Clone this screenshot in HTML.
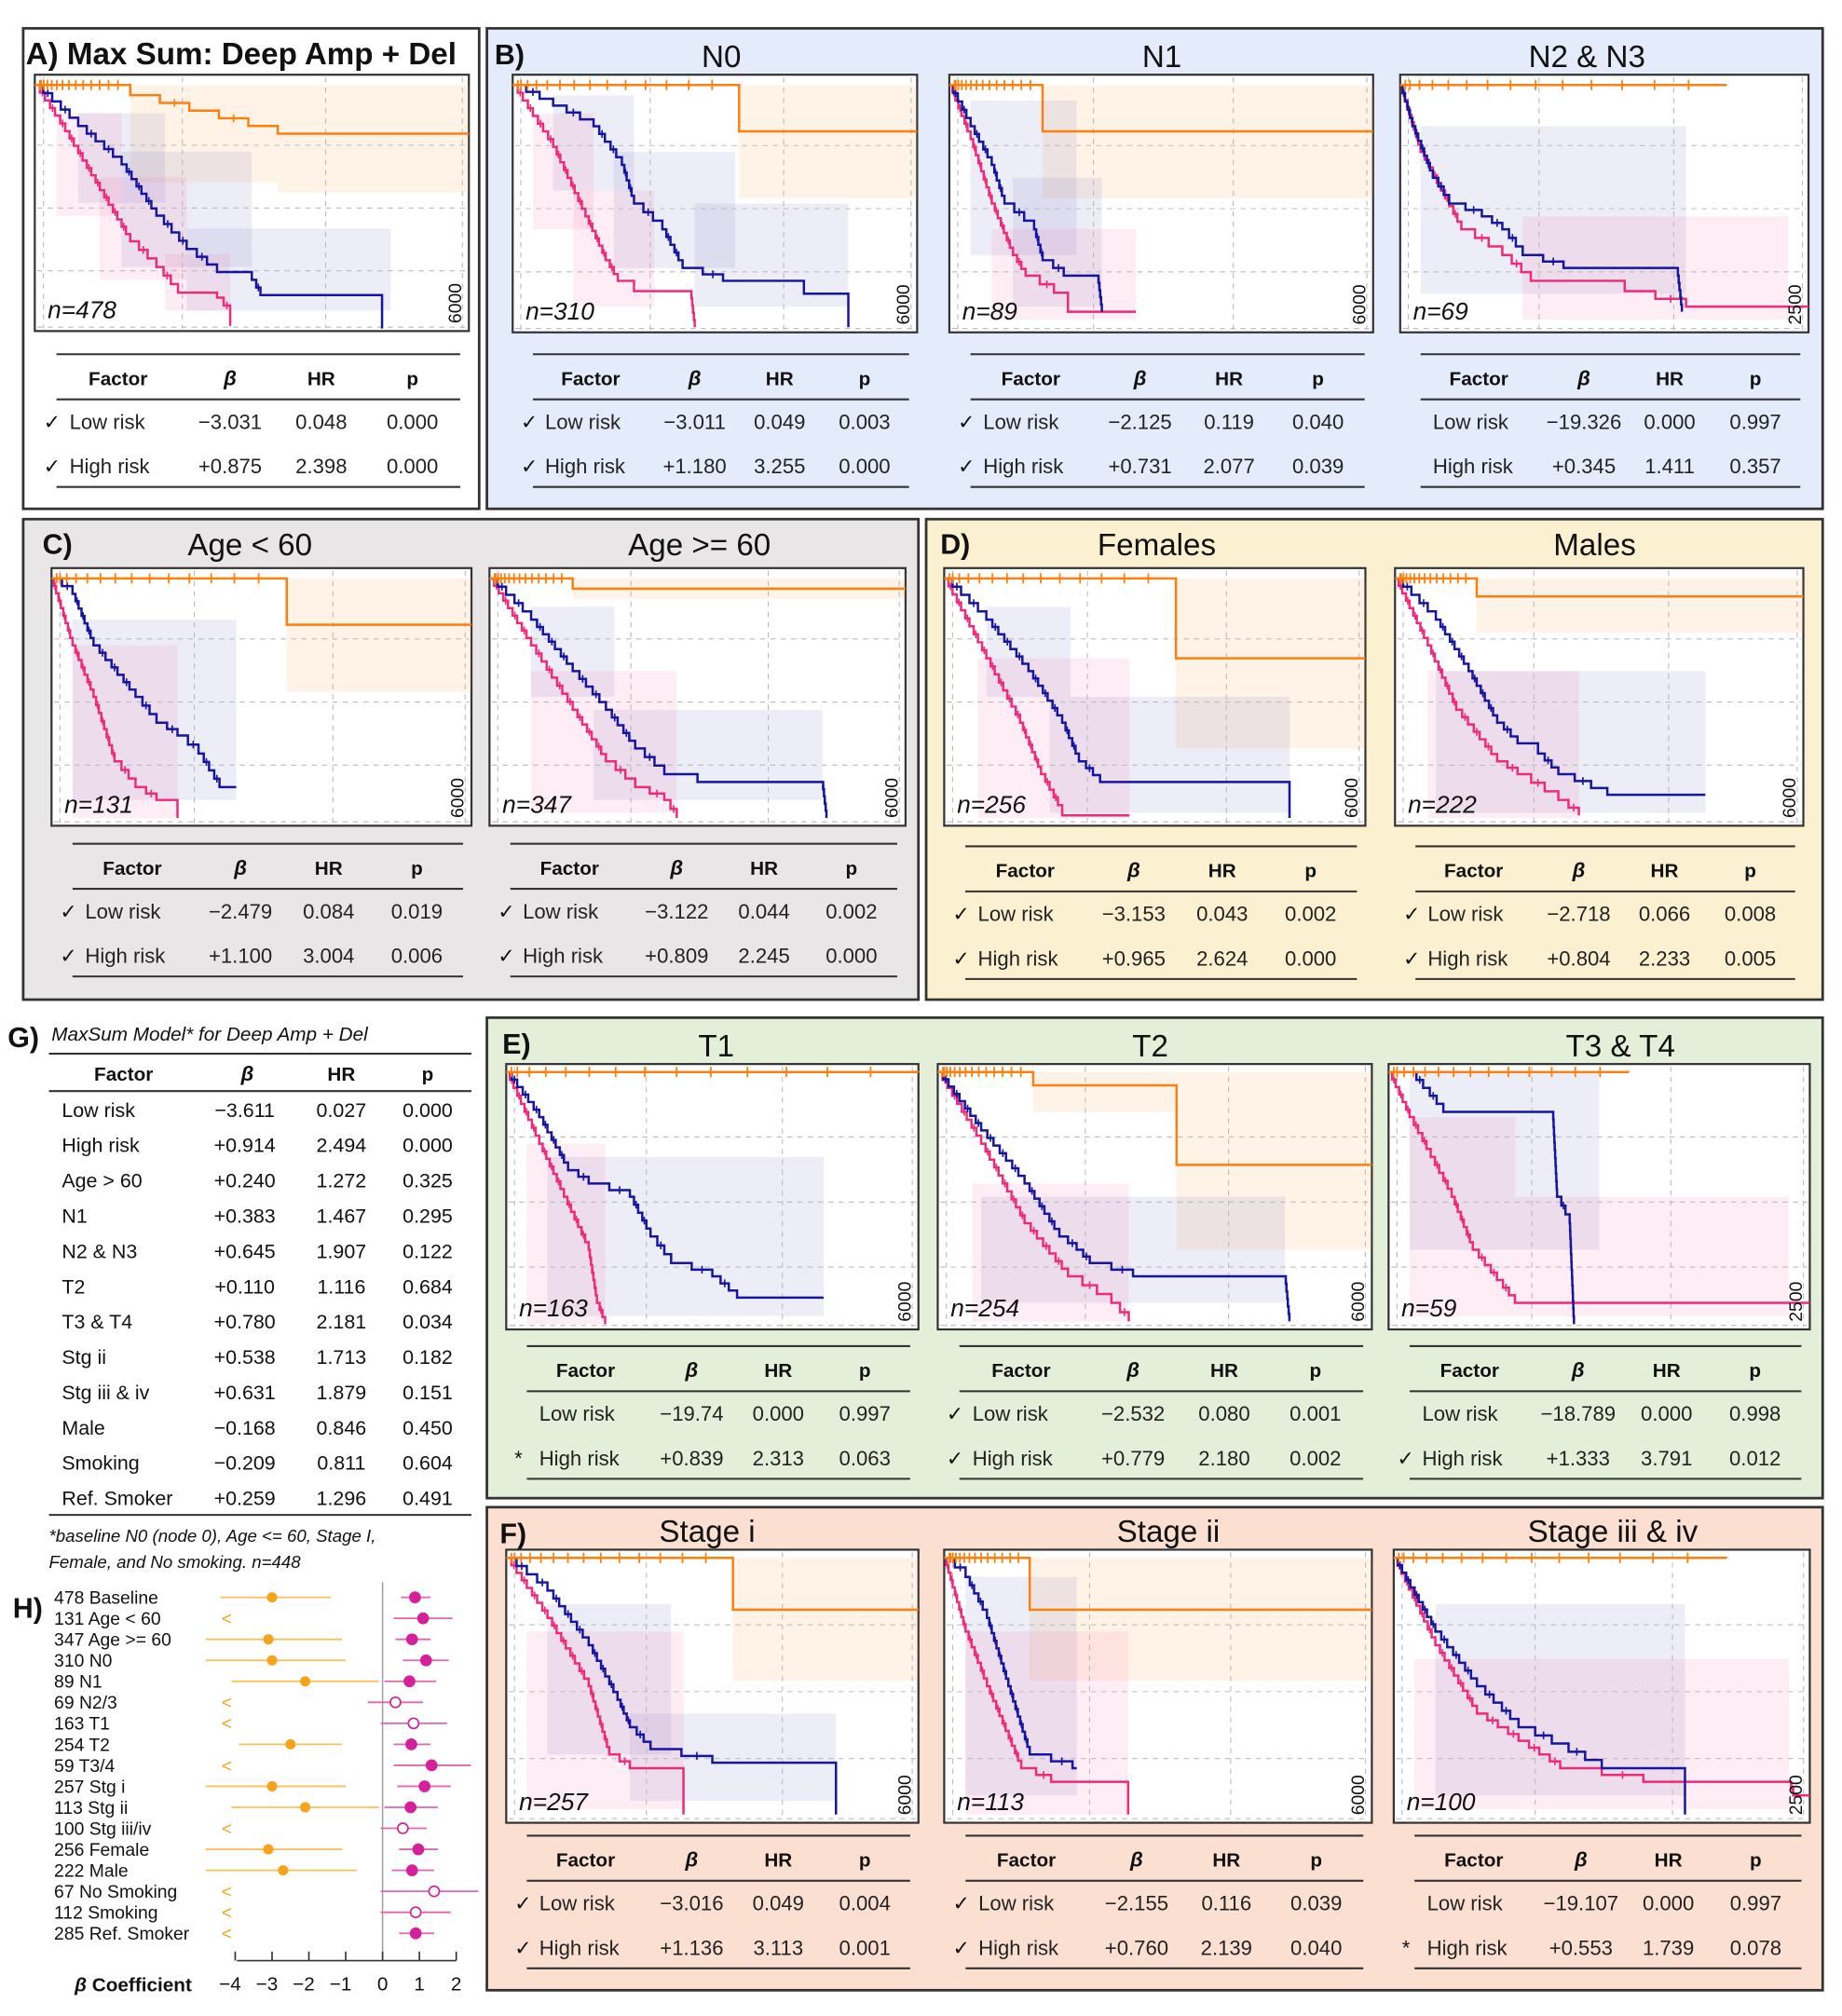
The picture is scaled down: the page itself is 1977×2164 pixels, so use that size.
<!DOCTYPE html>
<html><head><meta charset="utf-8"><style>
html,body{margin:0;padding:0;background:#fff}
svg{display:block}
text{font-family:"Liberation Sans","DejaVu Sans",sans-serif}
</style></head><body>
<svg id="s" width="1977" height="2164" viewBox="0 0 1430 1565" preserveAspectRatio="none" xmlns="http://www.w3.org/2000/svg"></svg>
<script>
const S=document.getElementById('s');let H='';
const OR='#ff7f0e',BL='#1515a0',PK='#ee2a7b';
function rect(x,y,w,h,f,st,sw){H+=`<rect x="${x}" y="${y}" width="${w}" height="${h}" fill="${f}" stroke="${st||'none'}" stroke-width="${sw||0}"/>`}
function line(x1,y1,x2,y2,c,w,d){H+=`<line x1="${x1}" y1="${y1}" x2="${x2}" y2="${y2}" stroke="${c}" stroke-width="${w}" ${d?`stroke-dasharray="${d}"`:''}/>`}
function txt(x,y,t,sz,o){o=o||{};H+=`<text x="${x}" y="${y}" font-size="${sz}" ${o.a?`text-anchor="${o.a}"`:''} ${o.b?'font-weight="bold"':''} ${o.i?'font-style="italic"':''} fill="${o.c||'#111'}" ${o.t?`transform="${o.t}"`:''}>${t}</text>`}
rect(18,22,354,373,'#fff','#333',2);
rect(378,22,1037,373,'#e4ebfa','#333',2);
rect(18,403,695,373,'#e8e6e6','#333',2);
rect(719,403,696,373,'#fbf0cf','#333',2);
rect(378,790,1037,373,'#e3efd9','#333',2);
rect(378,1170,1037,375,'#fbe0d2','#333',2);
function stair(pts,x,y,w,h){
 let d='',ticks=[];
 for(let i=0;i<pts.length;i++){
  const [t,f]=pts[i];
  if(i==0){d=`M${x+t*w},${y+f*h}`;continue}
  const [t0,f0]=pts[i-1];
  const n=Math.max(1,Math.round((f-f0)*h/6));
  for(let k=1;k<=n;k++){
   const tt=t0+(t-t0)*k/n, ff=f0+(f-f0)*k/n;
   d+=` H${(x+tt*w).toFixed(1)} V${(y+ff*h).toFixed(1)}`;
   if(k%2==0) ticks.push([x+(t0+(t-t0)*(k-.5)/n)*w,y+(f0+(f-f0)*(k-1)/n)*h]);
  }
 }
 return [d,ticks];
}
function km(x,y,w,h,o){
 rect(x,y,w,h,'#fff','#333',1.6);
 for(const b of (o.ob||[]))rect(x+b[0]*w,y+b[2]*h,(b[1]-b[0])*w,(b[3]-b[2])*h,'rgba(255,160,80,0.13)');
 for(const b of (o.bb||[]))rect(x+b[0]*w,y+b[2]*h,(b[1]-b[0])*w,(b[3]-b[2])*h,'rgba(90,90,180,0.11)');
 for(const b of (o.pb||[]))rect(x+b[0]*w,y+b[2]*h,(b[1]-b[0])*w,(b[3]-b[2])*h,'rgba(240,60,130,0.09)');
 for(let i=1;i<=4;i++)line(x+2,y+h*(i==4?.985:(i*.245+.03)),x+w-2,y+h*(i==4?.985:(i*.245+.03)),'#bbb',0.8,'4 4');
 for(const fx of [.02,.34,.67,.985])line(x+w*fx,y+2,x+w*fx,y+h-2,'#bbb',0.8,'4 4');
 for(const [c,p] of [[PK,o.p],[BL,o.b],[OR,o.o]]){
  const [d,tk]=stair(p,x,y,w,h);
  H+=`<path d="${d}" fill="none" stroke="${c}" stroke-width="1.8"/>`;
  for(const t of tk)line(t[0],t[1]-3,t[0],t[1]+3,c,1.2);
 }
 const of=o.o[0][1],oe=o.o[1][0];
 for(let i=0;i<14;i++){const tx=x+4+(oe*w-6)*Math.pow(i/14,1.6);line(tx,y+of*h-4,tx,y+of*h+4,OR,1.3)}
 txt(x+10,y+h-10,o.n,19,{i:1});
 txt(0,0,o.m||'6000',14,{t:`translate(${x+w-6},${y+h-6}) rotate(-90)`});
}
function table(x,w,y0,rows){
 const c=[x+w*.18,x+w*.45,x+w*.66,x+w*.87];
 line(x+w*.05,y0,x+w*.98,y0,'#333',1.5);
 txt(c[0]+4,y0+24,'Factor',15,{a:'middle',b:1});
 txt(c[1],y0+24,'β',16,{a:'middle',b:1,i:1});
 txt(c[2],y0+24,'HR',15,{a:'middle',b:1});
 txt(c[3],y0+24,'p',15,{a:'middle',b:1});
 line(x+w*.05,y0+35,x+w*.98,y0+35,'#333',1.5);
 rows.forEach((r,i)=>{const yy=y0+58+i*34.5;
  if(r[0])txt(x+w*.02,yy,r[0],16,{});
  txt(x+w*.08,yy,r[1],16,{c:'#222'});
  txt(c[1],yy,r[2],16,{a:'middle',c:'#222'});
  txt(c[2],yy,r[3],16,{a:'middle',c:'#222'});
  txt(c[3],yy,r[4],16,{a:'middle',c:'#222'});});
 line(x+w*.05,y0+103,x+w*.98,y0+103,'#333',1.5);
}
const CK='✓';
txt(20,50,'A) Max Sum: Deep Amp + Del',24,{b:1});
txt(384,50,'B)',22,{b:1});txt(560,52,'N0',24,{a:'middle'});txt(902,52,'N1',24,{a:'middle'});txt(1232,52,'N2 &amp; N3',24,{a:'middle'});
txt(33,430,'C)',22,{b:1});txt(194,431,'Age &lt; 60',24,{a:'middle'});txt(543,431,'Age &gt;= 60',24,{a:'middle'});
txt(730,430,'D)',22,{b:1});txt(898,431,'Females',24,{a:'middle'});txt(1238,431,'Males',24,{a:'middle'});
txt(390,818,'E)',22,{b:1});txt(556,820,'T1',24,{a:'middle'});txt(893,820,'T2',24,{a:'middle'});txt(1258,820,'T3 &amp; T4',24,{a:'middle'});
txt(388,1198,'F)',22,{b:1});txt(549,1197,'Stage i',24,{a:'middle'});txt(907,1197,'Stage ii',24,{a:'middle'});txt(1252,1197,'Stage iii &amp; iv',24,{a:'middle'});
km(27,58,337,199,{o:[[0,.04],[.22,.08],[.56,.23],[1,.23]],ob:[[.22,.56,.04,.42],[.56,1,.04,.46]],
 b:[[0,.04],[.1,.2],[.2,.35],[.28,.55],[.35,.68],[.42,.77],[.5,.8],[.52,.86],[.8,.86],[.8,.99]],bb:[[.1,.3,.15,.5],[.2,.5,.3,.75],[.35,.82,.6,.92]],
 p:[[0,.04],[.07,.22],[.15,.45],[.22,.65],[.28,.75],[.33,.85],[.42,.87],[.45,.93],[.45,.98]],pb:[[.05,.2,.15,.55],[.15,.35,.4,.8],[.3,.45,.7,.92]],n:'n=478'});
table(27,337,275,[[CK,'Low risk','−3.031','0.048','0.000'],[CK,'High risk','+0.875','2.398','0.000']]);
km(398,58,314,200,{o:[[0,.04],[.56,.04],[.56,.22],[1,.22]],ob:[[.56,1,.04,.48]],
 b:[[0,.04],[.1,.12],[.2,.2],[.27,.35],[.3,.5],[.37,.6],[.42,.75],[.52,.8],[.55,.8],[.55,.8],[.72,.8],[.72,.85],[.83,.85],[.83,.98]],bb:[[.1,.3,.08,.45],[.25,.55,.3,.75],[.45,.83,.5,.9]],
 p:[[0,.04],[.1,.28],[.18,.55],[.23,.72],[.26,.8],[.3,.84],[.44,.84],[.45,.98]],pb:[[.05,.2,.15,.6],[.15,.35,.45,.9]],n:'n=310'});
table(398,314,275,[[CK,'Low risk','−3.011','0.049','0.003'],[CK,'High risk','+1.180','3.255','0.000']]);
km(737,58,329,200,{o:[[0,.04],[.22,.04],[.22,.22],[1,.22]],ob:[[.22,1,.04,.48]],
 b:[[0,.04],[.05,.2],[.1,.35],[.13,.5],[.2,.6],[.22,.72],[.27,.78],[.35,.78],[.36,.92]],bb:[[.05,.3,.1,.7],[.15,.36,.4,.9]],
 p:[[0,.04],[.05,.25],[.1,.5],[.15,.7],[.18,.78],[.28,.88],[.28,.92],[.44,.92]],pb:[[.1,.44,.6,.95]],n:'n=89'});
table(737,329,275,[[CK,'Low risk','−2.125','0.119','0.040'],[CK,'High risk','+0.731','2.077','0.039']]);
km(1087,58,317,200,{o:[[0,.04],[.8,.04],[.8,.04]],ob:[],
 b:[[0,.04],[.03,.2],[.08,.4],[.12,.5],[.2,.55],[.25,.6],[.3,.7],[.4,.75],[.68,.78],[.69,.92]],bb:[[.05,.7,.2,.85]],
 p:[[0,.04],[.05,.3],[.1,.45],[.15,.6],[.25,.7],[.32,.8],[.55,.84],[.7,.9],[1,.9]],pb:[[.3,.95,.55,.95]],n:'n=69',m:'2500'});
table(1087,317,275,[['','Low risk','−19.326','0.000','0.997'],['','High risk','+0.345','1.411','0.357']]);
km(40,441,326,200,{o:[[0,.04],[.56,.04],[.56,.22],[1,.22]],ob:[[.56,1,.04,.48]],
 b:[[0,.04],[.05,.1],[.1,.3],[.2,.5],[.25,.6],[.3,.65],[.35,.72],[.4,.85],[.44,.85]],bb:[[.05,.44,.2,.9]],
 p:[[0,.04],[.05,.3],[.1,.5],[.15,.75],[.2,.85],[.25,.9],[.3,.93],[.3,.97]],pb:[[.05,.3,.3,.97]],n:'n=131'});
table(40,326,655,[[CK,'Low risk','−2.479','0.084','0.019'],[CK,'High risk','+1.100','3.004','0.006']]);
km(380,441,323,200,{o:[[0,.04],[.2,.04],[.2,.08],[1,.08]],ob:[[.2,1,.04,.12]],
 b:[[0,.04],[.1,.2],[.2,.4],[.28,.55],[.35,.7],[.42,.8],[.5,.83],[.8,.83],[.81,.97]],bb:[[.1,.3,.15,.5],[.25,.8,.55,.9]],
 p:[[0,.04],[.1,.3],[.2,.55],[.28,.75],[.35,.85],[.42,.9],[.45,.97]],pb:[[.1,.45,.4,.95]],n:'n=347'});
table(380,323,655,[[CK,'Low risk','−3.122','0.044','0.002'],[CK,'High risk','+0.809','2.245','0.000']]);
km(733,441,327,200,{o:[[0,.04],[.55,.04],[.55,.35],[1,.35]],ob:[[.55,1,.04,.7]],
 b:[[0,.04],[.1,.2],[.2,.4],[.28,.6],[.32,.75],[.37,.83],[.82,.83],[.82,.97]],bb:[[.1,.3,.15,.5],[.25,.82,.5,.95]],
 p:[[0,.04],[.1,.35],[.18,.6],[.23,.8],[.27,.92],[.28,.96],[.44,.96]],pb:[[.08,.44,.35,.97]],n:'n=256'});
table(733,327,657,[[CK,'Low risk','−3.153','0.043','0.002'],[CK,'High risk','+0.965','2.624','0.000']]);
km(1083,441,317,200,{o:[[0,.04],[.2,.04],[.2,.11],[1,.11]],ob:[[.2,1,.04,.25]],
 b:[[0,.04],[.1,.2],[.18,.4],[.25,.6],[.3,.68],[.35,.72],[.4,.8],[.52,.88],[.76,.88]],bb:[[.1,.76,.4,.95]],
 p:[[0,.04],[.08,.3],[.15,.55],[.25,.75],[.3,.8],[.4,.9],[.45,.96]],pb:[[.08,.45,.4,.97]],n:'n=222'});
table(1083,317,657,[[CK,'Low risk','−2.718','0.066','0.008'],[CK,'High risk','+0.804','2.233','0.005']]);
km(393,826,320,206,{o:[[0,.03],[1,.03]],ob:[],
 b:[[0,.03],[.08,.2],[.15,.4],[.2,.45],[.3,.5],[.35,.65],[.4,.75],[.5,.8],[.56,.88],[.77,.88]],bb:[[.1,.77,.35,.95]],
 p:[[0,.03],[.08,.3],[.14,.5],[.2,.7],[.22,.9],[.24,.98]],pb:[[.05,.24,.3,.98]],n:'n=163'});
table(393,320,1045,[['','Low risk','−19.74','0.000','0.997'],['*','High risk','+0.839','2.313','0.063']]);
km(728,826,337,206,{o:[[0,.03],[.22,.03],[.22,.08],[.55,.08],[.55,.38],[1,.38]],ob:[[.22,.55,.03,.18],[.55,1,.03,.7]],
 b:[[0,.03],[.1,.25],[.2,.45],[.28,.65],[.32,.7],[.35,.75],[.45,.8],[.8,.8],[.81,.97]],bb:[[.1,.8,.5,.9]],
 p:[[0,.03],[.1,.3],[.2,.6],[.3,.8],[.4,.9],[.44,.97]],pb:[[.08,.44,.45,.97]],n:'n=254'});
table(728,337,1045,[[CK,'Low risk','−2.532','0.080','0.001'],[CK,'High risk','+0.779','2.180','0.002']]);
km(1078,826,327,206,{o:[[0,.03],[.57,.03],[.57,.03]],ob:[],
 b:[[0,.03],[.05,.03],[.13,.18],[.39,.18],[.4,.5],[.43,.6],[.44,.98]],bb:[[.05,.5,.03,.7]],
 p:[[0,.03],[.05,.2],[.1,.35],[.15,.5],[.2,.7],[.3,.9],[1,.9]],pb:[[.3,.95,.5,.95],[.05,.3,.2,.95]],n:'n=59',m:'2500'});
table(1078,327,1045,[['','Low risk','−18.789','0.000','0.998'],[CK,'High risk','+1.333','3.791','0.012']]);
km(393,1203,320,212,{o:[[0,.03],[.55,.03],[.55,.22],[1,.22]],ob:[[.55,1,.03,.48]],
 b:[[0,.03],[.1,.15],[.2,.35],[.27,.55],[.3,.65],[.35,.73],[.5,.78],[.8,.78],[.8,.97]],bb:[[.1,.4,.2,.75],[.3,.8,.6,.92]],
 p:[[0,.03],[.1,.25],[.2,.5],[.25,.75],[.3,.8],[.43,.8],[.43,.97]],pb:[[.05,.43,.3,.95]],n:'n=257'});
table(393,320,1425,[[CK,'Low risk','−3.016','0.049','0.004'],[CK,'High risk','+1.136','3.113','0.001']]);
km(733,1203,332,212,{o:[[0,.03],[.2,.03],[.2,.22],[1,.22]],ob:[[.2,1,.03,.48]],
 b:[[0,.03],[.05,.1],[.1,.25],[.15,.5],[.2,.75],[.3,.8],[.31,.8]],bb:[[.05,.31,.1,.9]],
 p:[[0,.03],[.05,.3],[.1,.5],[.18,.8],[.25,.85],[.43,.85],[.43,.97]],pb:[[.05,.43,.3,.97]],n:'n=113'});
table(733,332,1425,[[CK,'Low risk','−2.155','0.116','0.039'],[CK,'High risk','+0.760','2.139','0.040']]);
km(1082,1203,323,212,{o:[[0,.03],[.8,.03],[.8,.03]],ob:[],
 b:[[0,.03],[.1,.3],[.2,.5],[.3,.65],[.5,.8],[.7,.83],[.7,.97]],bb:[[.1,.7,.2,.9]],
 p:[[0,.03],[.1,.35],[.2,.6],[.3,.7],[.4,.8],[.6,.85],[.95,.85],[.96,.9],[1,.9]],pb:[[.05,.95,.4,.95]],n:'n=100',m:'2500'});
table(1082,323,1425,[['','Low risk','−19.107','0.000','0.997'],['*','High risk','+0.553','1.739','0.078']]);
txt(6,813,'G)',22,{b:1});txt(40,808,'MaxSum Model* for Deep Amp + Del',15,{i:1});
line(38,818,366,818,'#333',1.5);
txt(96,839,'Factor',15,{a:'middle',b:1});txt(192,839,'β',16,{a:'middle',b:1,i:1});txt(265,839,'HR',15,{a:'middle',b:1});txt(332,839,'p',15,{a:'middle',b:1});
line(38,847,366,847,'#333',1.5);
const G=[['Low risk','−3.611','0.027','0.000'],['High risk','+0.914','2.494','0.000'],['Age &gt; 60','+0.240','1.272','0.325'],['N1','+0.383','1.467','0.295'],['N2 &amp; N3','+0.645','1.907','0.122'],['T2','+0.110','1.116','0.684'],['T3 &amp; T4','+0.780','2.181','0.034'],['Stg ii','+0.538','1.713','0.182'],['Stg iii &amp; iv','+0.631','1.879','0.151'],['Male','−0.168','0.846','0.450'],['Smoking','−0.209','0.811','0.604'],['Ref. Smoker','+0.259','1.296','0.491']];
G.forEach((r,i)=>{const y=867+i*27.4;txt(48,y,r[0],15.5);txt(190,y,r[1],15.5,{a:'middle'});txt(265,y,r[2],15.5,{a:'middle'});txt(332,y,r[3],15.5,{a:'middle'})});
line(38,1176,366,1176,'#333',1.5);
txt(38,1197,'*baseline N0 (node 0), Age &lt;= 60, Stage I,',13.5,{i:1});
txt(38,1217,'Female, and No smoking. n=448',13.5,{i:1});
txt(10,1256,'H)',22,{b:1});
const X=b=>297+b*28.6;
line(297,1228,297,1522,'#999',1);
line(184,1522,354,1522,'#333',1.2);
for(let b=-4;b<=2;b++){line(X(b),1515,X(b),1522,'#333',1.2);txt(X(b)-(b<0?4:0),1545,b<0?'−'+(-b):''+b,15,{a:'middle'})}
txt(58,1546,'<tspan font-style="italic">β</tspan> Coefficient',15,{b:1});
const HL=['478 Baseline','131 Age &lt; 60','347 Age &gt;= 60','310 N0','89 N1','69 N2/3','163 T1','254 T2','59 T3/4','257 Stg i','113 Stg ii','100 Stg iii/iv','256 Female','222 Male','67 No Smoking','112 Smoking','285 Ref. Smoker'];
const O=[[-3,-4.4,-1.4],null,[-3.1,-4.8,-1.1],[-3,-4.8,-1],[-2.1,-4.1,-0.1],null,null,[-2.5,-3.9,-1.1],null,[-3,-4.8,-1],[-2.1,-4.1,-0.1],null,[-3.1,-4.8,-1.1],[-2.7,-4.8,-0.7],null,null,null];
const P=[[.88,.5,1.3,1],[1.1,.3,1.9,1],[.8,.35,1.3,1],[1.18,.55,1.8,1],[.73,.05,1.45,1],[.35,-.4,1.1,0],[.84,-.05,1.75,0],[.78,.3,1.3,1],[1.33,.3,2.4,1],[1.14,.4,1.85,1],[.76,.05,1.5,1],[.55,-.05,1.2,0],[.97,.45,1.5,1],[.8,.25,1.4,1],[1.4,-.05,2.6,0],[.9,-.05,1.85,0],[.9,.45,1.4,1]];
HL.forEach((l,i)=>{const y=1240+i*16.3;txt(42,y+5,l,14);
 if(O[i]){line(X(O[i][1]),y,X(O[i][2]),y,'#fbbf5a',1.3);H+=`<circle cx="${X(O[i][0])}" cy="${y}" r="4" fill="#f7a21b"/>`}
 else txt(172,y+5,'&lt;',14,{c:'#f7a21b'});
 const p=P[i];line(X(p[1]),y,Math.min(X(p[2]),376),y,'#e066b0',1.3);
 H+=`<circle cx="${X(p[0])}" cy="${y}" r="4" fill="${p[3]?'#d4209a':'#fff'}" stroke="#d4209a" stroke-width="1.2"/>`;});
S.innerHTML=H;
</script>
</body></html>
